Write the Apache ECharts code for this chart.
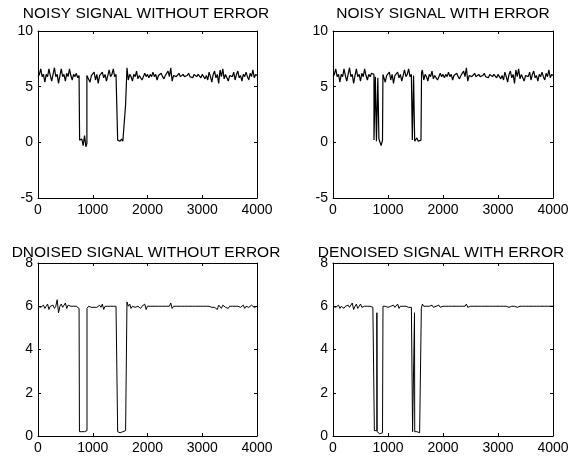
<!DOCTYPE html>
<html>
<head>
<meta charset="utf-8">
<script src="https://cdn.jsdelivr.net/npm/echarts@6/dist/echarts.min.js"></script>
<style>
  html, body { margin: 0; padding: 0; background: #fff; }
  #chart { width: 582px; height: 464px; }
</style>
</head>
<body>
<div id="chart"></div>
<script>
// one sample every STEP points of the 4000-sample signal
const STEP = 25
const titles = ['NOISY SIGNAL WITHOUT ERROR', 'NOISY SIGNAL WITH ERROR', 'DNOISED SIGNAL WITHOUT ERROR', 'DENOISED SIGNAL WITH ERROR']
const xTicks = [0, 1000, 2000, 3000, 4000]
const yTicksTop = [-5, 0, 5, 10]
const yTicksBottom = [0, 2, 4, 6, 8]

const noisyA = [
  5.9, 6.1, 6.6, 5.9, 6.1, 5.4, 6.1, 5.9, 6.6, 6.0,
  5.5, 6.1, 6.7, 5.9, 6.1, 5.3, 6.0, 6.6, 5.9, 6.1,
  5.5, 6.2, 5.9, 6.6, 6.0, 5.6, 6.1, 5.9, 6.2, 5.8,
  6.0,
  0.2, 0.3, -0.3, 0.6, -0.4,
  6.0, 6.1, 5.4, 6.0, 5.9, 6.3, 5.6, 6.1, 5.3, 6.0,
  5.9, 6.3, 5.8, 6.1, 5.5, 6.0, 6.5, 5.9, 6.1, 6.6,
  5.9, 6.1, 6.0,
  0.2, 0.1, 0.3, 0.1, 0.2,
  3.4,
  6.7, 5.6, 6.1, 5.9, 5.5, 6.1, 5.9, 6.4, 5.7, 6.0,
  6.1, 5.6, 5.9, 6.2, 5.9, 6.1, 5.8, 6.1, 5.9, 6.3,
  5.9, 6.1, 5.6, 6.0, 6.1, 6.2, 5.9, 5.7, 6.0, 6.1,
  6.4, 5.9, 6.7, 5.5, 6.0, 6.1, 5.9, 6.0, 6.2, 5.9,
  6.0, 6.1, 5.9, 6.0, 6.0, 6.2, 5.9, 6.0, 5.8, 6.1,
  6.0, 5.9, 6.1, 6.0, 5.8, 6.1, 6.2, 5.7, 6.0, 5.6,
  6.3, 5.9, 5.4, 6.1, 6.4, 5.8, 6.1, 5.3, 6.5, 5.9,
  6.6, 5.7, 6.1, 6.2, 5.5, 6.0, 6.1, 5.9, 6.3, 5.6,
  6.1, 6.4, 5.8, 6.0, 5.5, 6.1, 5.9, 6.3, 5.9, 5.6,
  6.2, 5.9, 6.5, 5.8, 6.1, 6.0
]
const edgesA = [[760, 6.0], [760, 0.2], [893, -0.1], [893, 6.0], [1455, 6.0], [1455, 0.2]]

const noisyB = [
  5.9, 6.1, 6.6, 5.9, 6.1, 5.4, 6.1, 5.9, 6.6, 6.0,
  5.5, 6.1, 6.7, 5.9, 6.1, 5.3, 6.0, 6.6, 5.9, 6.1,
  5.5, 6.2, 5.9, 6.6, 6.0, 5.6, 6.1, 5.9, 6.2, 6.1,
  0.2, 5.9, 0.1, 5.8, 0.3, -0.3, 0.2,
  6.1, 5.4, 6.0, 5.9, 6.3, 5.6, 6.1, 5.3, 6.0,
  5.9, 6.3, 5.8, 6.1, 5.5, 6.0, 6.5, 5.9, 6.1, 6.6,
  5.9, 6.1,
  0.2, 6.0, 0.1, 0.4, 0.1, 0.2, 0.2,
  6.5,
  5.6, 6.1, 5.9, 5.5, 6.1, 5.9, 6.4, 5.7, 6.0,
  6.1, 5.6, 5.9, 6.2, 5.9, 6.1, 5.8, 6.1, 5.9, 6.3,
  5.9, 6.1, 5.6, 6.0, 6.1, 6.2, 5.9, 5.7, 6.0, 6.1,
  6.4, 5.9, 6.7, 5.5, 6.0, 6.1, 5.9, 6.0, 6.2, 5.9,
  6.0, 6.1, 5.9, 6.0, 6.0, 6.2, 5.9, 6.0, 5.8, 6.1,
  6.0, 5.9, 6.1, 6.0, 5.8, 6.1, 6.2, 5.7, 6.0, 5.6,
  6.3, 5.9, 5.4, 6.1, 6.4, 5.8, 6.1, 5.3, 6.5, 5.9,
  6.6, 5.7, 6.1, 6.2, 5.5, 6.0, 6.1, 5.9, 6.3, 5.6,
  6.1, 6.4, 5.8, 6.0, 5.5, 6.1, 5.9, 6.3, 5.9, 5.6,
  6.2, 5.9, 6.5, 5.8, 6.1, 6.0
]
const edgesB = [
  [745, 6.1], [745, 0.2], [770, 0.2], [770, 5.9], [790, 5.9], [790, 0.1],
  [815, 0.1], [815, 5.8], [835, 5.8], [835, 0.3], [908, 0.2], [908, 6.1],
  [1442, 6.1], [1442, 0.2], [1465, 0.2], [1465, 6.0], [1485, 6.0], [1485, 0.1],
  [1610, 0.2], [1610, 6.3]
]

const denoisedA = [
  6.0, 6.0, 5.95, 6.0, 6.05, 5.9, 6.0, 6.1, 5.85, 6.0,
  6.0, 6.05, 5.9, 6.0, 6.3, 5.7, 6.0, 6.1, 5.95, 6.0,
  6.15, 5.9, 6.05, 6.0, 6.0, 6.0, 6.0, 6.0, 6.0, 5.95,
  5.9,
  0.2, 0.2, 0.2, 0.2, 0.25,
  5.9, 6.0, 5.95, 5.95, 5.9, 5.95, 6.0, 5.95, 6.0, 6.05,
  5.95, 6.1, 5.85, 6.0, 6.05, 6.0, 6.0, 6.0, 6.0, 6.0,
  6.0, 6.0, 6.0,
  0.2, 0.15, 0.2, 0.2, 0.25,
  0.25,
  6.2, 6.0, 6.1, 5.9, 6.0, 6.05, 5.95, 6.0, 6.0, 6.05,
  5.9, 6.0, 6.0, 6.1, 5.85, 6.0, 6.0, 6.0, 6.0, 6.0,
  6.0, 6.0, 6.0, 6.0, 6.0, 6.0, 6.0, 6.0, 6.0, 6.0,
  6.0, 6.0, 6.15, 5.9, 6.0, 6.0, 6.0, 6.0, 6.0, 6.0,
  6.0, 6.0, 6.0, 6.0, 6.0, 6.0, 6.0, 6.0, 6.0, 6.0,
  6.0, 6.0, 6.0, 6.0, 6.0, 6.0, 6.0, 6.0, 6.0, 6.0,
  6.0, 6.0, 5.95, 6.0, 5.95, 6.0, 5.85, 6.05, 6.0, 5.9,
  6.05, 6.0, 5.95, 6.0, 5.9, 6.0, 6.05, 6.0, 6.0, 6.0,
  6.0, 6.0, 6.0, 5.95, 6.0, 6.05, 5.9, 6.0, 6.0, 5.95,
  6.0, 6.05, 6.0, 5.95, 6.0, 6.0
]
const edgesDA = [[757, 5.9], [757, 0.2], [895, 0.25], [895, 5.9], [1455, 6.0], [1455, 0.2], [1607, 0.25]]

const denoisedB = [
  6.0, 6.0, 5.95, 6.0, 6.05, 5.9, 6.0, 6.05, 5.9, 6.0,
  6.0, 6.05, 5.95, 6.0, 6.15, 5.85, 6.0, 6.1, 5.9, 6.0,
  6.1, 5.95, 6.0, 6.0, 6.0, 6.0, 6.0, 6.0, 6.0, 5.95,
  6.0,
  0.25, 5.7, 0.2, 0.1, 0.15, 0.15,
  6.0, 6.0, 5.95, 5.95, 5.95, 6.0, 6.0, 6.05, 5.95,
  6.0, 6.1, 5.9, 6.0, 6.05, 6.0, 6.0, 6.0, 6.0, 5.95,
  6.0, 5.95,
  0.2, 0.2, 0.2, 0.2, 0.15, 0.15, 0.15,
  6.1,
  6.0, 6.05, 6.0, 5.95, 6.0, 6.0, 6.05, 5.95, 6.0,
  6.0, 6.0, 6.05, 5.95, 6.0, 6.0, 6.0, 6.0, 6.0, 6.0,
  6.0, 6.0, 6.0, 6.0, 6.0, 6.0, 6.0, 6.0, 6.0, 6.0,
  6.0, 6.0, 6.1, 5.95, 6.0, 6.0, 6.0, 6.0, 6.0, 6.0,
  6.0, 6.0, 6.0, 6.0, 6.0, 6.0, 6.0, 6.0, 6.0, 6.0,
  6.0, 6.0, 6.0, 6.0, 6.0, 6.0, 5.95, 6.0, 6.0, 6.0,
  6.0, 6.0, 6.0, 5.95, 6.0, 6.0, 5.95, 6.0, 6.0, 5.95,
  6.0, 6.0, 6.0, 6.0, 6.0, 6.0, 6.0, 6.0, 6.0, 6.0,
  6.0, 6.0, 6.0, 6.0, 6.0, 6.0, 6.0, 6.0, 6.0, 6.0,
  6.0, 6.0, 6.0, 6.0, 6.0, 6.0
]
const edgesDB = [
  [752, 6.0], [752, 0.25], [798, 0.25], [798, 5.7], [802, 5.7], [802, 0.2],
  [909, 0.15], [909, 6.0],
  [1447, 6.0], [1447, 0.2], [1482, 0.2], [1482, 5.7], [1486, 5.7], [1486, 0.2],
  [1606, 0.15], [1606, 5.9]
]

const signals = [noisyA, noisyB, denoisedA, denoisedB]
const edges = [edgesA, edgesB, edgesDA, edgesDB]

const font = 'Liberation Sans, Arial, sans-serif'
const grids = [
  { left: 38, top: 31, width: 219, height: 167 },
  { left: 333, top: 31, width: 220, height: 167 },
  { left: 38, top: 263, width: 219, height: 173 },
  { left: 333, top: 263, width: 220, height: 173 }
]
const titlePos = [[141, 1], [438, 1], [141, 240], [436, 240]]

// samples on the STEP grid plus the sharp jump points, ordered by x
function toPairs(vals, extra) {
  let pts = vals.map((v, i) => [i * STEP, v]).concat(extra)
  return pts.sort((a, b) => a[0] - b[0])
}

let xAxis = [], yAxis = [], series = [], title = []
grids.forEach((g, i) => {
  let yt = i < 2 ? yTicksTop : yTicksBottom
  let line = { show: true, onZero: false, lineStyle: { color: '#000', width: 1 } }
  let tick = { show: true, inside: true, length: 3, lineStyle: { color: '#000' } }
  let lab = { show: true, color: '#000', fontSize: 14, fontFamily: font, formatter: v => String(v) }
  xAxis.push({
    type: 'value', gridIndex: i, position: 'bottom',
    min: xTicks[0], max: xTicks[xTicks.length - 1], interval: xTicks[1] - xTicks[0],
    axisLine: line, axisTick: tick, splitLine: { show: false },
    axisLabel: Object.assign({ margin: 5 }, lab)
  })
  xAxis.push({
    type: 'value', gridIndex: i, position: 'top',
    min: xTicks[0], max: xTicks[xTicks.length - 1], interval: xTicks[1] - xTicks[0],
    axisLine: line, axisTick: tick, splitLine: { show: false }, axisLabel: { show: false }
  })
  yAxis.push({
    type: 'value', gridIndex: i, position: 'left',
    min: yt[0], max: yt[yt.length - 1], interval: yt[1] - yt[0],
    axisLine: line, axisTick: tick, splitLine: { show: false },
    axisLabel: Object.assign({ margin: 5 }, lab)
  })
  yAxis.push({
    type: 'value', gridIndex: i, position: 'right',
    min: yt[0], max: yt[yt.length - 1], interval: yt[1] - yt[0],
    axisLine: line, axisTick: tick, splitLine: { show: false }, axisLabel: { show: false }
  })
  series.push({
    type: 'line', xAxisIndex: i * 2, yAxisIndex: i * 2,
    data: toPairs(signals[i], edges[i]), showSymbol: false, sampling: 'none',
    lineStyle: { color: '#000', width: i < 2 ? 1.2 : 1 }
  })
  title.push({
    text: titles[i], left: titlePos[i][0], top: titlePos[i][1], textAlign: 'center',
    textStyle: { color: '#000', fontSize: 15.5, fontWeight: 'normal', fontFamily: font }
  })
})

let chart = echarts.init(document.getElementById('chart'))
chart.setOption({
  animation: false,
  backgroundColor: '#fff',
  title: title,
  grid: grids,
  xAxis: xAxis,
  yAxis: yAxis,
  series: series
})
</script>
</body>
</html>
